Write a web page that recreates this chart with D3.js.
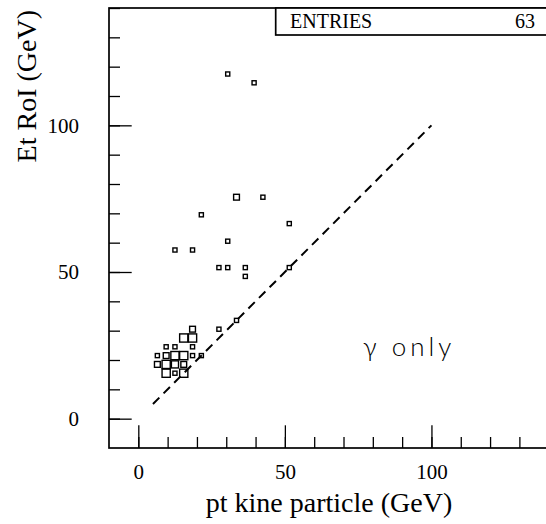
<!DOCTYPE html>
<html>
<head>
<meta charset="utf-8">
<script src="https://cdn.jsdelivr.net/npm/d3@7"></script>
<style>
  body { margin: 0; background: #fff; }
  svg text { font-family: "Liberation Serif", "Times New Roman", serif; fill: #000; }
</style>
</head>
<body>
<div id="plot"></div>
<script>
// bin centres (GeV) and contents of the filled cells, 3 GeV bins
var ptKine = [30.5, 39.5, 33.5, 42.5, 21.5, 51.5, 30.5, 12.5, 18.5, 27.5, 30.5, 36.5, 36.5, 51.5, 33.5, 27.5,
  18.5, 15.5, 18.5, 9.5, 12.5, 18.5, 6.5, 9.5, 12.5, 15.5, 18.5, 21.5, 6.5, 9.5, 12.5, 15.5, 9.5, 12.5, 15.5];
var etRoi = [117.5, 114.5, 75.5, 75.5, 69.5, 66.5, 60.5, 57.5, 57.5, 51.5, 51.5, 51.5, 48.5, 51.5, 33.5, 30.5,
  30.5, 27.5, 27.5, 24.5, 24.5, 24.5, 21.5, 21.5, 21.5, 21.5, 21.5, 21.5, 18.5, 18.5, 18.5, 18.5, 15.5, 15.5, 15.5];
var counts = [1, 1, 2, 1, 1, 1, 1, 1, 1, 1, 1, 1, 1, 1, 1, 1,
  2, 4, 4, 1, 1, 1, 1, 2, 4, 4, 1, 1, 2, 4, 3, 2, 4, 1, 4];

var entries = 63;
var diagX = [5, 100];
var diagY = [5, 100];

var xMinorTicks = [0, 10, 20, 30, 40, 50, 60, 70, 80, 90, 100, 110, 120, 130, 140];
var xMajorTicks = [0, 50, 100];
var yMinorTicks = [0, 10, 20, 30, 40, 50, 60, 70, 80, 90, 100, 110, 120, 130, 140];
var yMajorTicks = [0, 50, 100];

var svgWidth = 546;
var svgHeight = 524;

var margin = { top: 8, left: 109 };
var width = 439.7;
var height = 440;

var svg = d3.select("#plot")
  .append("svg")
  .attr("width", svgWidth)
  .attr("height", svgHeight);

var chartGroup = svg.append("g")
  .attr("transform", `translate(${margin.left}, ${margin.top})`);

var xScale = d3.scaleLinear().domain([-10, 140]).range([0, width]);
var yScale = d3.scaleLinear().domain([-10, 140]).range([height, 0]);
var boxSize = d3.scaleSqrt().domain([0, 4]).range([0, 8.2]);

// minor ticks
chartGroup.append("g")
  .attr("transform", `translate(0, ${height})`)
  .call(d3.axisBottom(xScale).tickValues(xMinorTicks).tickSize(-11).tickFormat(""));
chartGroup.append("g")
  .call(d3.axisLeft(yScale).tickValues(yMinorTicks).tickSize(-11).tickFormat(""));

// major ticks with labels
var bottomAxis = d3.axisBottom(xScale).tickValues(xMajorTicks).tickSize(-22.7).tickPadding(16);
var leftAxis = d3.axisLeft(yScale).tickValues(yMajorTicks).tickSize(-22.7).tickPadding(30);

chartGroup.append("g")
  .attr("class", "major")
  .attr("transform", `translate(0, ${height})`)
  .call(bottomAxis);
chartGroup.append("g")
  .attr("class", "major")
  .call(leftAxis);

chartGroup.selectAll(".domain").remove();
chartGroup.selectAll(".tick line").attr("stroke", "#000").attr("stroke-width", 1.3);
chartGroup.selectAll(".major text")
  .style("font-family", "'Liberation Serif', serif")
  .style("font-size", "21px")
  .attr("fill", "#000");

// frame
chartGroup.append("rect")
  .attr("x", 0)
  .attr("y", 0)
  .attr("width", width)
  .attr("height", height)
  .attr("fill", "none")
  .attr("stroke", "#000")
  .attr("stroke-width", 1.7);

// diagonal
var line = d3.line()
  .x(d => xScale(d[0]))
  .y(d => yScale(d[1]));

chartGroup.append("path")
  .datum(d3.zip(diagX, diagY))
  .attr("d", line)
  .attr("fill", "none")
  .attr("stroke", "#000")
  .attr("stroke-width", 2)
  .attr("stroke-dasharray", "9,6");

// boxes
chartGroup.selectAll("rect.cell")
  .data(counts)
  .enter()
  .append("rect")
  .attr("class", "cell")
  .attr("x", (d, i) => xScale(ptKine[i]) - boxSize(d) / 2)
  .attr("y", (d, i) => yScale(etRoi[i]) - boxSize(d) / 2)
  .attr("width", d => boxSize(d))
  .attr("height", d => boxSize(d))
  .attr("fill", "none")
  .attr("stroke", "#000")
  .attr("stroke-width", 1.4);

// statistics box
chartGroup.append("rect")
  .attr("x", 166.7)
  .attr("y", 0)
  .attr("width", 300)
  .attr("height", 27)
  .attr("fill", "#fff")
  .attr("stroke", "#000")
  .attr("stroke-width", 1.7);

chartGroup.append("text")
  .attr("x", 181)
  .attr("y", 20)
  .style("font-size", "20px")
  .text("ENTRIES");

chartGroup.append("text")
  .attr("x", 426)
  .attr("y", 20)
  .style("font-size", "20px")
  .attr("text-anchor", "end")
  .text(entries);

chartGroup.append("text")
  .attr("x", 254)
  .attr("y", 348)
  .style("font-family", "Lato, 'Open Sans', sans-serif")
  .style("font-weight", 300)
  .style("font-size", "26px")
  .style("letter-spacing", "4px")
  .text("γ only");

// axis titles
svg.append("text")
  .attr("x", 329)
  .attr("y", 512)
  .attr("text-anchor", "middle")
  .style("font-size", "28px")
  .text("pt kine particle (GeV)");

svg.append("text")
  .attr("transform", "translate(36, 10) rotate(-90)")
  .attr("text-anchor", "end")
  .style("font-size", "28px")
  .text("Et RoI (GeV)");
</script>
</body>
</html>
